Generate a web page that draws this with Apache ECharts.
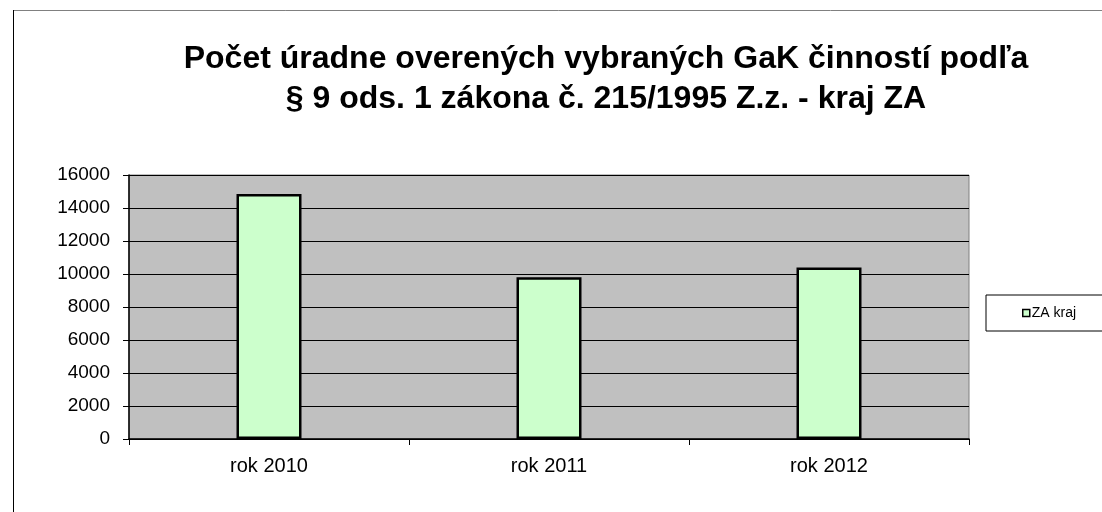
<!DOCTYPE html>
<html>
<head>
<meta charset="utf-8">
<script src="https://cdn.jsdelivr.net/npm/echarts@6/dist/echarts.min.js"></script>
<style>
    html, body { margin: 0; padding: 0; background: #fff; }
    #chart { width: 1102px; height: 512px; }
</style>
</head>
<body>
<div id="chart"></div>
<script>
var titleText = 'Počet úradne overených vybraných GaK činností podľa\n§ 9 ods. 1 zákona č. 215/1995 Z.z. - kraj ZA';
var categories = ['rok 2010', 'rok 2011', 'rok 2012'];
var seriesName = 'ZA kraj';
var values = [14850, 9800, 10400];

var myChart = echarts.init(document.getElementById('chart'));
var option = {
    animation: false,
    backgroundColor: '#fff',
    textStyle: { fontFamily: 'Liberation Sans, Arial, sans-serif' },
    graphic: [
        {
            type: 'rect',
            shape: { x: 13.5, y: 10.5, width: 1100, height: 520 },
            style: { fill: 'none', stroke: '#808080', lineWidth: 1 },
            silent: true
        },
        {
            type: 'line',
            shape: { x1: 13.5, y1: 10, x2: 13.5, y2: 512 },
            style: { stroke: '#000', lineWidth: 1 },
            silent: true
        }
    ],
    title: {
        text: titleText,
        left: 601,
        textAlign: 'center',
        top: 34,
        textStyle: {
            fontSize: 32,
            fontWeight: 'bold',
            color: '#000',
            lineHeight: 40
        }
    },
    legend: {
        left: 986,
        top: 295,
        padding: [11, 30, 11, 36],
        borderColor: '#000',
        borderWidth: 1,
        backgroundColor: '#fff',
        itemWidth: 7,
        itemHeight: 7,
        itemGap: 0,
        icon: 'rect',
        selectedMode: false,
        textStyle: { fontSize: 14, color: '#000', padding: [0, 0, 0, -3] },
        data: [{ name: seriesName, itemStyle: { color: '#CCFFCC', borderColor: '#000', borderWidth: 1.5 } }]
    },
    grid: {
        left: 129,
        top: 175,
        width: 840,
        height: 264,
        show: true,
        backgroundColor: '#C0C0C0',
        borderColor: '#808080',
        borderWidth: 1
    },
    xAxis: {
        type: 'category',
        data: categories,
        axisLine: { lineStyle: { color: '#000', width: 1.5 } },
        axisTick: { show: true, length: 6, lineStyle: { color: '#000' } },
        axisLabel: { color: '#000', fontSize: 20, margin: 17 },
        splitLine: { show: false }
    },
    yAxis: {
        type: 'value',
        min: 0,
        max: 16000,
        interval: 2000,
        axisLine: { show: true, lineStyle: { color: '#000', width: 1.5 } },
        axisTick: { show: true, length: 6, lineStyle: { color: '#000' } },
        axisLabel: { color: '#000', fontSize: 19, margin: 19, formatter: function (v) { return String(v); } },
        splitLine: { show: true, lineStyle: { color: '#000', width: 1 } }
    },
    series: [
        {
            name: seriesName,
            type: 'bar',
            barWidth: 65,
            data: values,
            itemStyle: { color: '#CCFFCC', borderColor: '#000', borderWidth: 2.5 }
        }
    ]
};
myChart.setOption(option, true);
</script>
</body>
</html>
